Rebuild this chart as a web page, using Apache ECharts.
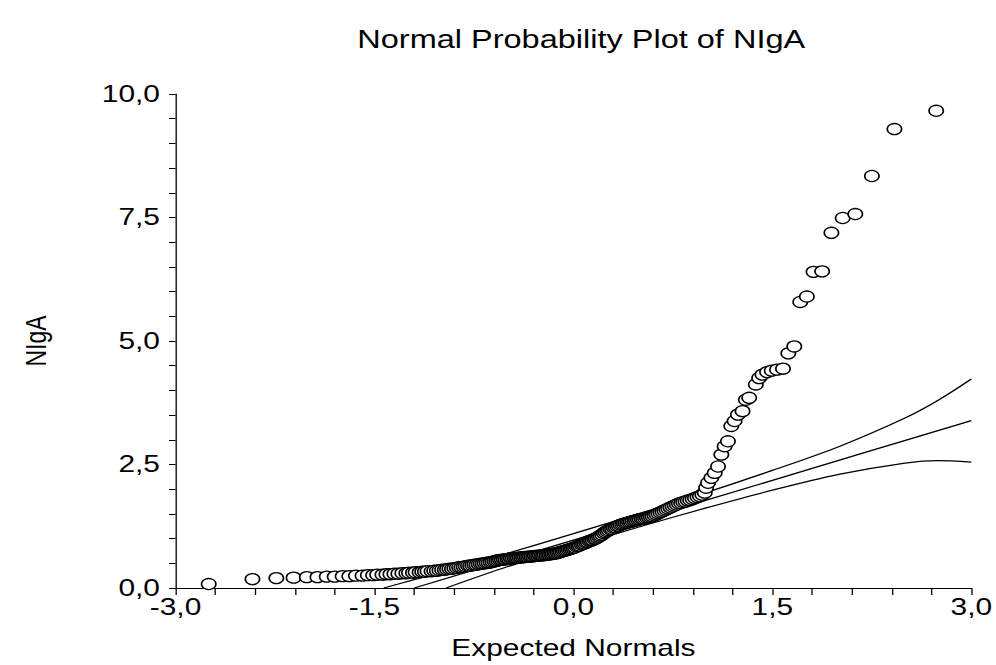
<!DOCTYPE html>
<html>
<head>
<meta charset="utf-8">
<script src="https://cdn.jsdelivr.net/npm/echarts@6/dist/echarts.min.js"></script>
<style>
  html, body { margin: 0; padding: 0; background: #fff; overflow: hidden; }
  /* the scanned original is stretched sideways, so draw narrow and widen */
  #chart { width: 766px; height: 665px; transform: scaleX(1.3003); transform-origin: 0 0; }
</style>
</head>
<body>
<div id="chart"></div>
<script>
// expected normals (x) and sorted NIgA values (y)
const expectedNormals = [
  -2.75, -2.42, -2.24, -2.11, -2.01, -1.93, -1.86, -1.80, -1.74, -1.69,
  -1.64, -1.59, -1.55, -1.51, -1.48, -1.44, -1.41, -1.38, -1.35, -1.32,
  -1.29, -1.26, -1.24, -1.21, -1.19, -1.16, -1.14, -1.12, -1.10, -1.07,
  -1.05, -1.03, -1.01, -0.99, -0.97, -0.953, -0.935, -0.916, -0.898, -0.880,
  -0.862, -0.845, -0.828, -0.812, -0.795, -0.779, -0.763, -0.747, -0.731, -0.715,
  -0.700, -0.685, -0.670, -0.655, -0.640, -0.625, -0.611, -0.596, -0.582, -0.568,
  -0.554, -0.540, -0.526, -0.513, -0.499, -0.486, -0.472, -0.459, -0.445, -0.432,
  -0.419, -0.406, -0.393, -0.380, -0.367, -0.354, -0.342, -0.329, -0.317, -0.304,
  -0.291, -0.279, -0.266, -0.254, -0.241, -0.229, -0.217, -0.204, -0.192, -0.180,
  -0.168, -0.156, -0.144, -0.132, -0.120, -0.108, -0.096, -0.084, -0.072, -0.060,
  -0.048, -0.036, -0.024, -0.012, 0.000, 0.012, 0.024, 0.036, 0.048, 0.060,
  0.072, 0.084, 0.096, 0.108, 0.120, 0.132, 0.144, 0.156, 0.168, 0.180,
  0.192, 0.204, 0.217, 0.229, 0.241, 0.254, 0.266, 0.279, 0.291, 0.304,
  0.317, 0.329, 0.342, 0.354, 0.367, 0.380, 0.393, 0.406, 0.419, 0.432,
  0.445, 0.459, 0.472, 0.486, 0.499, 0.513, 0.526, 0.540, 0.554, 0.568,
  0.582, 0.596, 0.611, 0.625, 0.640, 0.655, 0.670, 0.685, 0.700, 0.715,
  0.731, 0.747, 0.763, 0.779, 0.795, 0.812, 0.828, 0.845, 0.862, 0.880,
  0.898, 0.916, 0.935, 0.953, 0.972, 0.990, 1.000, 1.015, 1.040, 1.065,
  1.090, 1.115, 1.140, 1.165, 1.190, 1.215, 1.240, 1.275, 1.300, 1.325,
  1.375, 1.400, 1.425, 1.460, 1.495, 1.535, 1.580, 1.620, 1.665, 1.710,
  1.760, 1.810, 1.875, 1.945, 2.030, 2.125, 2.250, 2.420, 2.735
];
const nigaValues = [
  0.08, 0.18, 0.20, 0.21, 0.22, 0.22, 0.23, 0.23, 0.24, 0.24,
  0.25, 0.25, 0.26, 0.26, 0.27, 0.27, 0.28, 0.28, 0.29, 0.29,
  0.30, 0.30, 0.31, 0.31, 0.32, 0.32, 0.33, 0.33, 0.34, 0.34,
  0.35, 0.35, 0.36, 0.37, 0.37, 0.38, 0.39, 0.39, 0.40, 0.41,
  0.42, 0.42, 0.43, 0.44, 0.45, 0.45, 0.46, 0.47, 0.47, 0.48,
  0.49, 0.49, 0.50, 0.51, 0.51, 0.52, 0.53, 0.54, 0.55, 0.56,
  0.57, 0.57, 0.58, 0.58, 0.59, 0.59, 0.60, 0.60, 0.61, 0.61,
  0.61, 0.62, 0.62, 0.62, 0.63, 0.63, 0.63, 0.64, 0.64, 0.64,
  0.65, 0.65, 0.65, 0.66, 0.66, 0.66, 0.67, 0.67, 0.68, 0.68,
  0.69, 0.69, 0.70, 0.70, 0.71, 0.72, 0.73, 0.74, 0.75, 0.76,
  0.77, 0.78, 0.79, 0.80, 0.81, 0.82, 0.84, 0.85, 0.86, 0.88,
  0.89, 0.90, 0.92, 0.93, 0.95, 0.96, 0.97, 0.99, 1.00, 1.02,
  1.04, 1.06, 1.08, 1.11, 1.13, 1.15, 1.17, 1.19, 1.20, 1.22,
  1.23, 1.25, 1.26, 1.28, 1.29, 1.30, 1.31, 1.32, 1.33, 1.34,
  1.35, 1.36, 1.37, 1.38, 1.39, 1.40, 1.40, 1.41, 1.42, 1.43,
  1.44, 1.45, 1.47, 1.49, 1.51, 1.53, 1.55, 1.57, 1.59, 1.61,
  1.63, 1.65, 1.67, 1.69, 1.71, 1.72, 1.74, 1.75, 1.77, 1.78,
  1.80, 1.82, 1.84, 1.86, 1.89, 1.93, 2.03, 2.13, 2.23, 2.33,
  2.46, 2.70, 2.87, 2.97, 3.28, 3.38, 3.51, 3.58, 3.81, 3.85,
  4.12, 4.25, 4.32, 4.37, 4.40, 4.42, 4.44, 4.75, 4.89, 5.79,
  5.90, 6.40, 6.41, 7.19, 7.49, 7.57, 8.34, 9.29, 9.66
];

// reference line and the two curved bands
const refLineX = [-1.2, 0, 1.5, 3.0];
const refLineY = [0, 0.97, 2.18, 3.39];
const upperBandX = [-1.43, -1.2, -1.0, -0.5, 0, 0.5, 1.0, 1.5, 2.0, 2.5, 2.75, 3.0];
const upperBandY = [0, 0.17, 0.32, 0.70, 1.10, 1.51, 1.93, 2.38, 2.86, 3.44, 3.80, 4.23];
const lowerBandX = [-0.96, -0.5, 0, 0.5, 1.0, 1.5, 2.0, 2.5, 2.75, 3.0];
const lowerBandY = [0, 0.43, 0.84, 1.24, 1.62, 1.98, 2.30, 2.53, 2.58, 2.55];

const pairs = (xs, ys) => xs.map((x, i) => [x, ys[i]]);
const commaFmt = v => v.toFixed(1).replace('.', ',');

const font = "'Liberation Sans', Arial, sans-serif";
const chart = echarts.init(document.getElementById('chart'), null, { renderer: 'svg' });

const bandLine = (xs, ys) => ({
  type: 'line',
  data: pairs(xs, ys),
  smooth: 0.3,
  showSymbol: false,
  symbol: 'none',
  lineStyle: { color: '#000', width: 1.3 },
  z: 2
});

const option = {
  animation: false,
  backgroundColor: '#fff',
  title: {
    text: 'Normal Probability Plot of NIgA',
    left: 442,
    textAlign: 'center',
    top: 22,
    textStyle: { fontFamily: font, fontSize: 25, fontWeight: 'normal', color: '#000' }
  },
  grid: { left: 135, right: 16, top: 94, bottom: 76 },
  xAxis: {
    type: 'value',
    min: -3,
    max: 3,
    interval: 1.5,
    name: 'Expected Normals',
    nameLocation: 'middle',
    nameGap: 49,
    nameTextStyle: { fontFamily: font, fontSize: 23, color: '#000' },
    axisLine: { onZero: false, lineStyle: { color: '#000', width: 1 } },
    axisTick: { length: 7, lineStyle: { color: '#000' } },
    minorTick: { show: true, splitNumber: 5, length: 7, lineStyle: { color: '#000' } },
    splitLine: { show: false },
    axisLabel: { formatter: commaFmt, fontFamily: font, fontSize: 23, color: '#000', margin: 8 }
  },
  yAxis: {
    type: 'value',
    min: 0,
    max: 10,
    interval: 2.5,
    name: 'NIgA',
    nameLocation: 'middle',
    nameRotate: 90,
    nameGap: 96,
    nameTextStyle: { fontFamily: font, fontSize: 23, color: '#000' },
    axisLine: { show: true, onZero: false, lineStyle: { color: '#000', width: 1 } },
    axisTick: { show: true, length: 5, lineStyle: { color: '#000' } },
    minorTick: { show: true, splitNumber: 5, length: 5, lineStyle: { color: '#000' } },
    splitLine: { show: false },
    axisLabel: { formatter: commaFmt, fontFamily: font, fontSize: 23, color: '#000', margin: 12 }
  },
  series: [
    bandLine(upperBandX, upperBandY),
    bandLine(refLineX, refLineY),
    bandLine(lowerBandX, lowerBandY),
    {
      type: 'scatter',
      data: pairs(expectedNormals, nigaValues),
      symbol: 'circle',
      symbolSize: 11,
      itemStyle: { color: '#fff', borderColor: '#000', borderWidth: 1.3, opacity: 1 },
      z: 3
    }
  ]
};

chart.setOption(option);
</script>
</body>
</html>
